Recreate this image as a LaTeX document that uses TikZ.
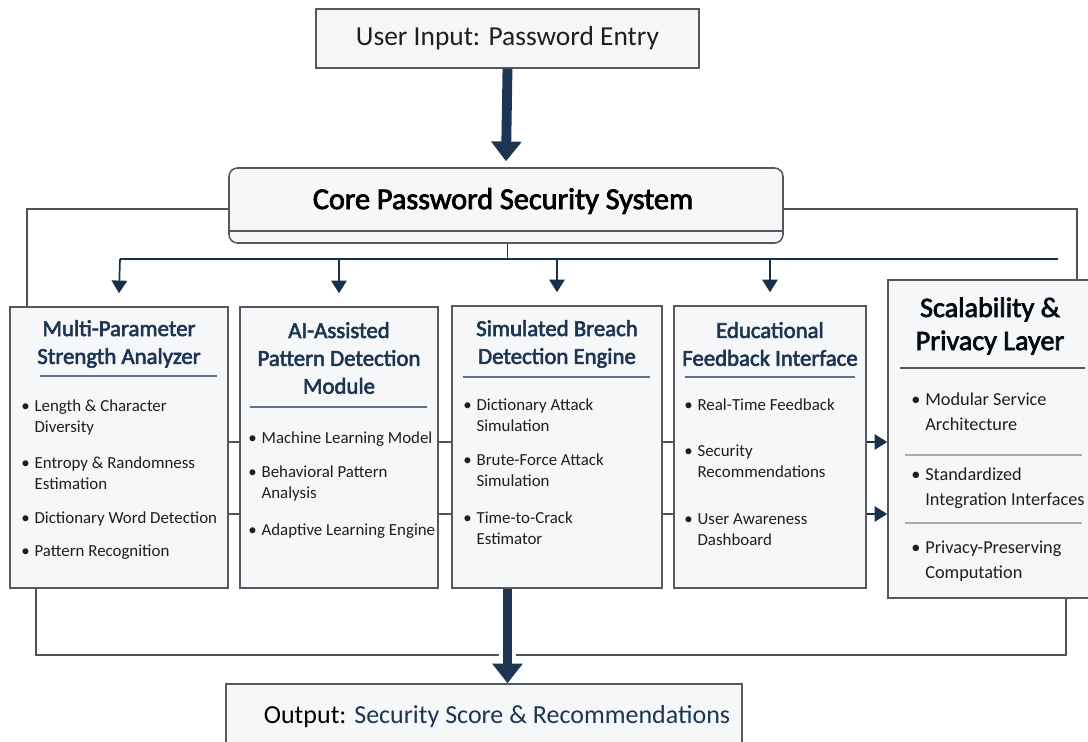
\documentclass[tikz,border=0pt]{standalone}
\usepackage{fontspec}
\setmainfont{Carlito}
\newfontfamily\medfont[FakeBold=2.6]{Carlito}
\usepackage{xcolor}
\usetikzlibrary{arrows.meta,positioning,calc,fit}

\definecolor{navy}{HTML}{1C3553}
\definecolor{ink}{HTML}{1E1E1E}
\definecolor{boxgray}{HTML}{55595E}
\definecolor{boxfill}{HTML}{F6F7F8}
\definecolor{linegray}{HTML}{4E5359}

% one bullet with wrapped lines
\newcommand{\bitem}[1]{\begin{tabular}[t]{@{}l@{\hspace{3.5pt}}l@{}}\textbullet & \begin{tabular}[t]{@{}l@{}}#1\end{tabular}\end{tabular}}

\begin{document}
\begin{tikzpicture}[x=0.025cm, y=-0.025cm,
    box/.style={draw=boxgray, line width=1.1pt, fill=boxfill, inner sep=0pt},
    ttl/.style={text=navy, align=center, font=\fontsize{16.2}{19.8}\medfont},
    itm/.style={anchor=base west, text=ink, inner sep=0pt, font=\fontsize{12}{15.6}\selectfont},
    rule/.style={draw=navy!70, line width=0.9pt},
    link/.style={draw=linegray, line width=1.2pt},
    bus/.style={draw=navy!90!black, line width=1.2pt},
    smallarrow/.style={bus, -{Triangle[width=11pt,length=9pt]}},
    bigarrow/.style={draw=navy, line width=7pt, -{Triangle[width=21pt,length=14pt]}}]
    \useasboundingbox (0,0) rectangle (1088,742);

    % Input and core
    \node[box, fit={(316,9) (699,68)}] (inp) {};
    \node[font=\fontsize{19.5}{22}\selectfont, text=ink] at (inp.center) {User Input: Password Entry};

    \node[box, rounded corners=6pt, fit={(229,168) (783,243)}] (core) {};
    \draw[boxgray, line width=1.1pt] (core.west |- 0,231) -- (core.east |- 0,231);
    \node[font=\fontsize{21.5}{24}\medfont, text=black] at (503,201) {Core Password Security System};

    \draw[bigarrow] (inp.south) -- ($(core.north)+(0,-6)$);

    % Modules
    \node[box, fit={(10,307) (228,588)}] (m1) {};
    \node[box, fit={(240,307) (438,588)}] (m2) {};
    \node[box, fit={(452,306) (662,588)}] (m3) {};
    \node[box, fit={(674,306) (866,588)}] (m4) {};
    \node[box, fit={(888,280) (1092,598)}] (m5) {};

    % Distribution bus
    \coordinate (busl) at (120,259);
    \coordinate (busr) at (1058,259);
    \draw[bus] (core.south -| inp.south) -- (inp.south |- busl);
    \draw[bus] (busl) -- (busr);
    \draw[smallarrow] (busl) -- ($(m1.north)+(0,-13)$);
    \draw[smallarrow] (m2.north |- busl) -- ($(m2.north)+(0,-13)$);
    \draw[smallarrow] (m3.north |- busl) -- ($(m3.north)+(0,-13)$);
    \draw[smallarrow] (m4.north |- busl) -- ($(m4.north)+(0,-13)$);

    % Outer loops
    \draw[link] (core.west |- 0,209) -| (m1.north -| 27,0);
    \draw[link] (core.east |- 0,209) -| (m5.north -| 1077,0);
    \coordinate (loopl) at (36,655);
    \coordinate (loopr) at (1066,655);
    \draw[link] (m1.south -| loopl) -- (loopl) -- (loopr) -- (m5.south -| loopr);

    % Links between modules
    \foreach \a/\b in {m1/m2, m2/m3, m3/m4} {
        \draw[link] (\a.east |- 0,442) -- (\b.west |- 0,442);
        \draw[link] (\a.east |- 0,514) -- (\b.west |- 0,514);
    }
    \draw[smallarrow] (m4.east |- 0,442) -- (m5.west |- 0,442);
    \draw[smallarrow] (m4.east |- 0,514) -- (m5.west |- 0,514);

    % Titles
    \node[ttl] at (119,344) {Multi-Parameter\\Strength Analyzer};
    \node[ttl] at (339,358) {AI-Assisted\\Pattern Detection\\Module};
    \node[ttl] at (557,344) {Simulated Breach\\Detection Engine};
    \node[ttl] at (770,344) {Educational\\Feedback Interface};
    \node[ttl, text=black!80!navy, font=\fontsize{20}{23.5}\medfont] at (990,326) {Scalability \&\\Privacy Layer};

    \draw[rule] (40,376) -- (217,376);
    \draw[rule] (250,407) -- (427,407);
    \draw[rule] (463,377) -- (650,377);
    \draw[rule] (685,377) -- (855,377);
    \draw[rule, draw=boxgray, line width=1.2pt] (900,368) -- (1085,368);
    \draw[draw=boxgray!50, line width=1pt] (905,455) -- (1082,455);
    \draw[draw=boxgray!50, line width=1pt] (905,523) -- (1082,523);

    % Items
    \node[itm] at (21,411) {\bitem{Length \& Character\\Diversity}};
    \node[itm] at (21,468) {\bitem{Entropy \& Randomness\\Estimation}};
    \node[itm] at (21,523) {\bitem{Dictionary Word Detection}};
    \node[itm] at (21,556) {\bitem{Pattern Recognition}};

    \node[itm] at (248,443) {\bitem{Machine Learning Model}};
    \node[itm] at (248,477) {\bitem{Behavioral Pattern\\Analysis}};
    \node[itm] at (248,535) {\bitem{Adaptive Learning Engine}};

    \node[itm] at (463,410) {\bitem{Dictionary Attack\\Simulation}};
    \node[itm] at (463,465) {\bitem{Brute-Force Attack\\Simulation}};
    \node[itm] at (463,523) {\bitem{Time-to-Crack\\Estimator}};

    \node[itm] at (684,410) {\bitem{Real-Time Feedback}};
    \node[itm] at (684,456) {\bitem{Security\\Recommendations}};
    \node[itm] at (684,524) {\bitem{User Awareness\\Dashboard}};

    \node[itm, font=\fontsize{13}{18.4}\selectfont] at (911,405) {\bitem{Modular Service\\Architecture}};
    \node[itm, font=\fontsize{13}{18.4}\selectfont] at (911,480) {\bitem{Standardized\\Integration Interfaces}};
    \node[itm, font=\fontsize{13}{18.4}\selectfont] at (911,553) {\bitem{Privacy-Preserving\\Computation}};

    % Output
    \node[box, fit={(226,684) (742,760)}] (out) {};
    \draw[white, line width=12pt] (inp.south |- 0,649) -- (inp.south |- 0,661);
    \draw[bigarrow] (m3.south -| inp.south) -- (out.north -| inp.south);
    \node[font=\fontsize{18.5}{20}\selectfont, text=black] at (497,717) {Output: \textcolor{navy}{Security Score \& Recommendations}};
\end{tikzpicture}
\end{document}
